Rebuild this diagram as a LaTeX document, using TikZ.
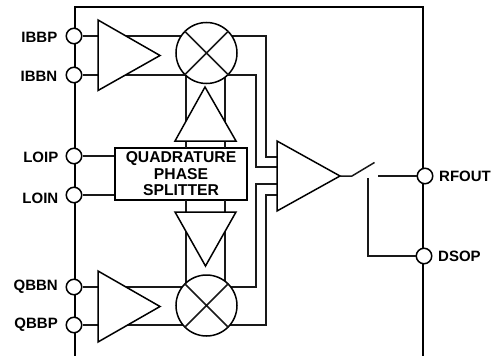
\documentclass[tikz,border=0pt]{standalone}
\usepackage{fontspec}
\setmainfont{Liberation Sans}
\begin{document}
\begin{tikzpicture}[x=1pt,y=-1pt,
  wire/.style={line width=1.5pt,black!90},
  frameline/.style={line width=2.2pt,black},
  shapeline/.style={line width=1.5pt,black,fill=white,line join=miter},
  pin/.style={circle,draw=black,line width=1.5pt,fill=white,minimum size=15.5pt,inner sep=0pt},
  mixer/.style={circle,draw=black,line width=1.5pt,fill=white,minimum size=61pt,inner sep=0pt},
  pinlabel/.style={font=\bfseries\fontsize{15}{16}\selectfont,inner sep=0pt,text=black},
  splitter/.style={draw=black,line width=1.5pt,fill=white,minimum width=132pt,minimum height=52pt,inner sep=0pt,align=center,font=\bfseries\fontsize{15.7}{16.5}\selectfont,text=black}]
\useasboundingbox (0,0) rectangle (499,356);
% coordinates
\coordinate (ftl) at (75,7);
\coordinate (ftr) at (423,7);
\coordinate (fbl) at (75,356);
\coordinate (fbr) at (423,356);
\coordinate (m1) at (206.5,53);
\coordinate (m2) at (206.5,305.5);
\coordinate (busA) at (266,36);
\coordinate (busB) at (256,75);
\coordinate (busC) at (256,287);
\coordinate (busD) at (266,325);
\coordinate (inA) at (278,157);
\coordinate (inB) at (278,167);
\coordinate (inC) at (278,184);
\coordinate (inD) at (278,195);
\coordinate (ampOut) at (340,176);
\coordinate (swHinge) at (352,176);
\coordinate (swTip) at (374.5,162.5);
\coordinate (swContact) at (378,176);
\coordinate (dsTop) at (368,178);
\coordinate (dsCorner) at (368,256);
% frame
\draw[frameline] (fbl) -- (ftl) -- (ftr) -- (fbr);
% pins
\node[pin] (ibbp) at (74,36) {};
\node[pin] (ibbn) at (74,75) {};
\node[pin] (loip) at (74,156) {};
\node[pin] (loin) at (74,195) {};
\node[pin] (qbbn) at (74,287) {};
\node[pin] (qbbp) at (74,325) {};
\node[pin] (rfout) at (425,176) {};
\node[pin] (dsop) at (424,256) {};
% wires passing behind amplifiers and mixers
\draw[wire] (ibbp.east) -- (busA) -- (busA |- inA) -- (inA);
\draw[wire] (ibbn.east) -- (busB) -- (busB |- inB) -- (inB);
\draw[wire] (qbbn.east) -- (busC) -- (busC |- inC) -- (inC);
\draw[wire] (qbbp.east) -- (busD) -- (busD |- inD) -- (inD);
\node[splitter] (split) at (181,174) {QUADRATURE\\PHASE\\SPLITTER};
\draw[wire] (loip.east) -- (loip.east -| split.west);
\draw[wire] (loin.east) -- (loin.east -| split.west);
\draw[wire] (186,60) -- (186,148);
\draw[wire] (225,60) -- (225,148);
\draw[wire] (186,200) -- (186,300);
\draw[wire] (225,200) -- (225,300);
% amplifiers
\draw[shapeline] (98,20) -- (160,55.5) -- (98,90.5) -- cycle;
\draw[shapeline] (98,271) -- (160,306.5) -- (98,342) -- cycle;
\draw[shapeline] (175,141) -- (205,87) -- (236,141) -- cycle;
\draw[shapeline] (175,212) -- (205.5,266) -- (236,212) -- cycle;
\draw[shapeline] (277,141) -- (ampOut) -- (277,211) -- cycle;
% mixers
\node[mixer] (mix1) at (m1) {};
\node[mixer] (mix2) at (m2) {};
\draw[wire] (mix1.45) -- (mix1.225) (mix1.135) -- (mix1.315);
\draw[wire] (mix2.45) -- (mix2.225) (mix2.135) -- (mix2.315);
% output switch
\draw[wire] (ampOut) -- (swHinge) -- (swTip);
\draw[wire] (swContact) -- (rfout.west);
\draw[wire] (dsTop) -- (dsCorner) -- (dsop.west);
% labels
\node[pinlabel,anchor=east] (tibbp) at (57.5,37) {IBBP};
\node[pinlabel,anchor=east] (tibbn) at (57.5,76.5) {IBBN};
\node[pinlabel,anchor=east] (tloip) at (58.5,157) {LOIP};
\node[pinlabel,anchor=east] (tloin) at (58.5,198) {LOIN};
\node[pinlabel,anchor=east] (tqbbn) at (58,287) {QBBN};
\node[pinlabel,anchor=east] (tqbbp) at (58,325) {QBBP};
\node[pinlabel,anchor=west] (trf) at (439,176) {RFOUT};
\node[pinlabel,anchor=west] (tds) at (438,256) {DSOP};
\end{tikzpicture}
\end{document}
